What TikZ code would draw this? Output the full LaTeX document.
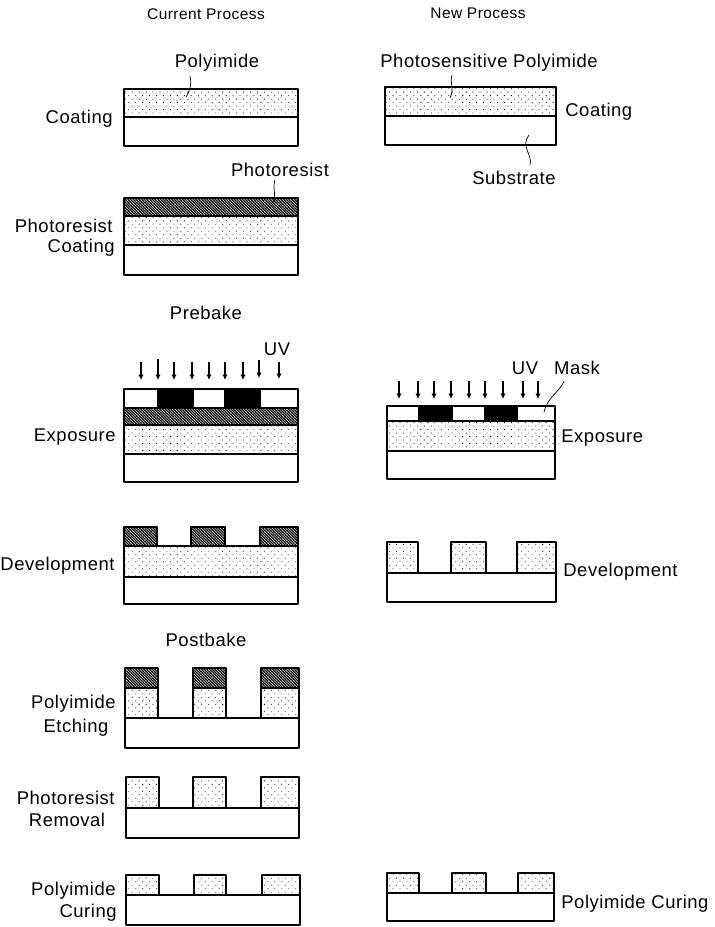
\documentclass[tikz,border=0pt]{standalone}
\usepackage{fontspec}
\setmainfont[LetterSpace=3]{Liberation Sans}
\usetikzlibrary{patterns.meta,arrows.meta}
\tikzset{
	layer/.style={draw=black, line width=0.9pt, line join=round},
	substrate/.style={layer, fill=white},
	polyimide/.style={layer, pattern={Dots[distance=2.8pt, radius=0.33pt, angle=45]}, pattern color=black},
	resist/.style={layer, line width=1.3pt, pattern={Lines[distance=1.1pt, angle=-45, line width=0.7pt]}, pattern color=black},
	maskblack/.style={draw=black, fill=black},
	label/.style={font=\fontsize{10.5}{12}\selectfont, inner sep=0pt, yshift=-0.8pt},
	heading/.style={font=\fontsize{8.8}{12}\selectfont, inner sep=0pt},
	uvarrow/.style={-{Latex[length=3pt,width=3pt]}, line width=0.6pt},
	leader/.style={line width=0.4pt}
}
\begin{document}
\begin{tikzpicture}[x=0.02cm, y=-0.02cm]
	\useasboundingbox (0,0) rectangle (714,927);
	\fill[white] (0,0) rectangle (714,927);
	% headings
	\node[heading] (current) at (206,14) {Current Process};
	\node[heading] (new) at (478,13) {New Process};
	\node[label] (prebake) at (206,311) {Prebake};
	\node[label] (postbake) at (206,638) {Postbake};

	% current process: coating
	\draw[polyimide] (124,89) rectangle (298,117);
	\draw[substrate] (124,117) rectangle (298,146);
	\node[label] (polyA) at (217,61) {Polyimide};
	\coordinate (polyAstart) at (190,76);
	\coordinate (polyAend) at (186,97);
	\draw[leader] (polyAstart) .. controls (192,85) and (190,90) .. (polyAend);
	\node[label, anchor=east] (coatA) at (113,117) {Coating};

	% photoresist coating
	\draw[polyimide] (124,216) rectangle (298,245);
	\draw[resist] (124,198) rectangle (298,216);
	\draw[substrate] (124,245) rectangle (298,275);
	\node[label] (resistB) at (280,168) {Photoresist};
	\coordinate (resistBstart) at (275,180);
	\coordinate (resistBend) at (273,204);
	\draw[leader] (resistBstart) .. controls (272,188) and (277,196) .. (resistBend);
	\node[label, anchor=east] (resistC) at (113,224) {Photoresist};
	\node[label, anchor=east] (coatB) at (115,246) {Coating};

	% exposure
	\draw[polyimide] (124,425) rectangle (298,454);
	\draw[resist] (124,408) rectangle (298,425);
	\draw[substrate] (124,454) rectangle (298,482);
	\draw[layer, fill=white] (124,389) rectangle (298,408);
	\foreach \xa/\xb in {157/193, 224/260}
		\fill[maskblack] (\xa,389) rectangle (\xb,408);
	\foreach \x/\ya/\yb in {141/362/380, 158/359/380, 174/362/380, 192/362/380, 209/362/380, 225/362/380, 243/362/380, 259/360/378, 279/362/379} {
		\coordinate (uvA\x) at (\x,\ya);
		\coordinate (uvB\x) at (\x,\yb);
		\draw[uvarrow] (uvA\x) -- (uvB\x);
	}
	\node[label] (uvA) at (277,348) {UV};
	\node[label, anchor=east] (expA) at (116,436) {Exposure};

	% development
	\foreach \xa/\xb in {124/157, 191/225, 260/298}
		\draw[resist] (\xa,527) rectangle (\xb,546);
	\draw[polyimide] (124,546) rectangle (298,577);
	\draw[substrate] (124,577) rectangle (298,604);
	\node[label, anchor=east] (devA) at (115,564) {Development};

	% polyimide etching
	\foreach \xa/\xb in {125/158, 193/226, 261/299} {
		\draw[polyimide] (\xa,688) rectangle (\xb,718);
		\draw[resist] (\xa,668) rectangle (\xb,688);
	}
	\draw[substrate] (125,718) rectangle (299,748);
	\node[label, anchor=east] (polyB) at (116,702) {Polyimide};
	\node[label] (etch) at (76,726) {Etching};

	% photoresist removal
	\foreach \xa/\xb in {126/159, 193/226, 261/299}
		\draw[polyimide] (\xa,777) rectangle (\xb,808);
	\draw[substrate] (126,808) rectangle (299,838);
	\node[label, anchor=east] (resistD) at (115,796) {Photoresist};
	\node[label] (removal) at (67,818) {Removal};

	% polyimide curing
	\foreach \xa/\xb in {126/159, 194/226, 262/300}
		\draw[polyimide] (\xa,875) rectangle (\xb,895);
	\draw[substrate] (126,895) rectangle (300,925);
	\node[label, anchor=east] (polyC) at (116,889) {Polyimide};
	\node[label, anchor=east] (curing) at (117,911) {Curing};

	% new process: coating
	\draw[polyimide] (385,87) rectangle (556,116);
	\draw[substrate] (385,116) rectangle (556,145);
	\node[label] (photopoly) at (489,61) {Photosensitive Polyimide};
	\coordinate (photopolystart) at (452,75);
	\coordinate (photopolyend) at (450,98);
	\draw[leader] (photopolystart) .. controls (449,80) and (455,88) .. (photopolyend);
	\node[label, anchor=west] (coatC) at (565,110) {Coating};
	\node[label] (subst) at (514,176) {Substrate};
	\coordinate (substend) at (529,135);
	\coordinate (substart) at (530,165);
	\draw[leader] (substart) .. controls (533,155) and (520,146) .. (substend);

	% exposure
	\draw[polyimide] (387,421) rectangle (555,451);
	\draw[substrate] (387,451) rectangle (555,479);
	\draw[layer, fill=white] (387,406) rectangle (555,421);
	\foreach \xa/\xb in {418/452, 484/517}
		\fill[maskblack] (\xa,406) rectangle (\xb,421);
	\foreach \x in {399, 418, 434, 451, 469, 485, 503, 523, 538} {
		\coordinate (uvC\x) at (\x,381);
		\coordinate (uvD\x) at (\x,399);
		\draw[uvarrow] (uvC\x) -- (uvD\x);
	}
	\node[label] (uvB) at (525,367) {UV};
	\node[label] (mask) at (577,366) {Mask};
	\coordinate (maskstart) at (564,381);
	\coordinate (maskend) at (544,412);
	\draw[leader] (maskstart) .. controls (560,392) and (548,396) .. (maskend);
	\node[label, anchor=west] (expB) at (561,437) {Exposure};

	% development
	\foreach \xa/\xb in {387/418, 451/486, 517/556}
		\draw[polyimide] (\xa,542) rectangle (\xb,573);
	\draw[substrate] (387,573) rectangle (556,602);
	\node[label, anchor=west] (devB) at (563,570) {Development};

	% polyimide curing
	\foreach \xa/\xb in {387/419, 452/486, 518/554}
		\draw[polyimide] (\xa,873) rectangle (\xb,893);
	\draw[substrate] (387,893) rectangle (554,921);
	\node[label, anchor=west] (polyD) at (561,902) {Polyimide Curing};
\end{tikzpicture}
\end{document}
